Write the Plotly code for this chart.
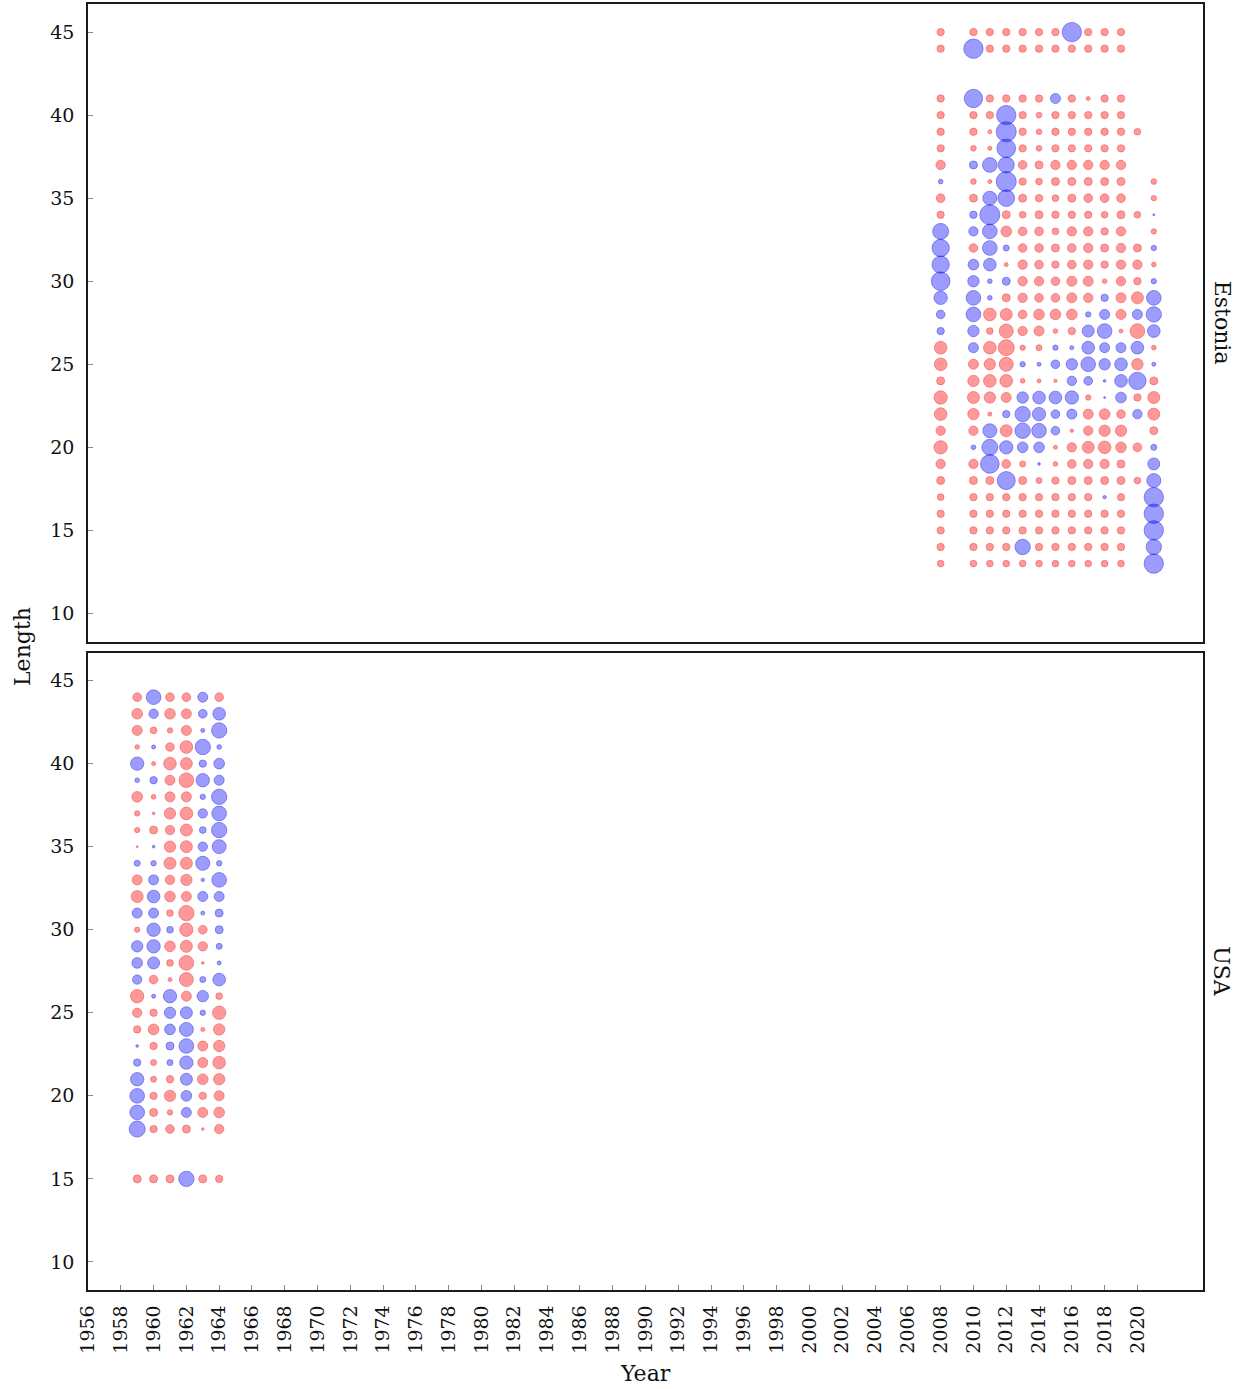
import plotly.graph_objects as go
from plotly.subplots import make_subplots

# ---------------- data ----------------
# signed bubble magnitudes: positive -> red, negative -> blue, None -> no bubble
est_years = [2008, 2010, 2011, 2012, 2013, 2014, 2015, 2016, 2017, 2018, 2019, 2020, 2021]
est_lengths = [45, 44, 41, 40, 39, 38, 37, 36, 35, 34, 33, 32, 31, 30, 29, 28, 27, 26,
               25, 24, 23, 22, 21, 20, 19, 18, 17, 16, 15, 14, 13]
est_values = [
    [22, 22, 22, 22, 22, 22, 22, -58, 22, 22, 22, None, None],   # 45
    [22, -58, 22, 22, 22, 22, 22, 22, 22, 22, 22, None, None],   # 44
    [22, -55, 22, 22, 22, 22, -30, 22, 12, 22, 22, None, None],  # 41
    [22, 22, 22, -58, 22, 17, 22, 22, 22, 22, 22, None, None],   # 40
    [22, 22, 12, -60, 22, 17, 22, 22, 22, 22, 22, 20, None],     # 39
    [22, 17, 12, -56, 22, 17, 22, 22, 22, 22, 22, None, None],   # 38
    [28, -24, -44, -48, 26, 24, 28, 28, 28, 28, 28, None, None], # 37
    [-14, 17, 12, -60, 22, 20, 24, 24, 24, 24, 24, None, 17],    # 36
    [26, 24, -42, -50, 24, 22, 20, 24, 26, 26, 26, None, 16],    # 35
    [22, -22, -60, 24, 20, 24, 22, 22, 22, 20, 24, 20, -6],      # 34
    [-48, -28, -44, 32, 26, 26, 20, 28, 28, 22, 28, None, 16],   # 33
    [-52, 26, -44, -18, 26, 26, 24, 26, 28, 24, 28, 24, -16],    # 32
    [-52, -32, -38, 12, 28, 26, 22, 26, 28, 22, 28, 28, 14],     # 31
    [-56, -34, -14, -24, 28, 28, 26, 30, 30, 14, 28, 22, -16],   # 30
    [-40, -44, -14, 24, 28, 26, 26, 30, 28, -22, 30, 36, -44],   # 29
    [-26, -44, 38, 36, 26, 32, 32, 32, -16, -30, 30, -30, -46],  # 28
    [-22, -34, 20, 42, 28, 30, 14, 22, -36, -44, 12, 44, -38],   # 27
    [38, -30, 38, 48, 16, 18, -16, -12, -38, -30, -30, -38, 14], # 26
    [38, 30, 34, 42, -16, -12, -26, -34, -44, -34, -38, 34, -12],# 25
    [24, 34, 38, 38, 14, 12, 10, -28, -26, -8, -38, -52, 24],    # 24
    [40, 36, 34, 30, -34, -38, -38, -40, 16, -6, -32, 22, 36],   # 23
    [38, 34, 12, -22, -46, -40, -26, -30, 30, 32, 26, -28, 36],  # 22
    [28, 28, -42, 36, -46, -44, -26, 10, 28, 34, 34, None, 24],  # 21
    [40, -14, -48, -40, -32, -32, 12, 28, 36, 38, 32, 26, -18],  # 20
    [28, 28, -56, 26, 18, -8, 14, 26, 28, 28, 24, None, -36],    # 19
    [24, 24, 24, -54, 24, 18, 22, 24, 24, 24, 24, 20, -42],      # 18
    [20, 22, 22, 22, 22, 22, 22, 22, 22, -10, 22, None, -58],    # 17
    [22, 22, 22, 22, 22, 22, 22, 22, 22, 22, 22, None, -58],     # 16
    [22, 22, 22, 22, 22, 22, 22, 22, 22, 22, 22, None, -58],     # 15
    [22, 22, 22, 22, -46, 22, 22, 22, 22, 22, 22, None, -46],    # 14
    [20, 20, 20, 20, 20, 20, 20, 20, 20, 20, 20, None, -58],     # 13
]

usa_years = [1959, 1960, 1961, 1962, 1963, 1964]
usa_lengths = [44, 43, 42, 41, 40, 39, 38, 37, 36, 35, 34, 33, 32, 31, 30, 29, 28, 27,
               26, 25, 24, 23, 22, 21, 20, 19, 18, 15]
usa_values = [
    [26, -44, 26, 26, -30, 26],    # 44
    [32, -28, 32, 30, -26, -38],   # 43
    [30, 20, 16, 30, -12, -46],    # 42
    [14, -12, 26, 38, -46, -14],   # 41
    [-40, 12, 38, 36, -22, -32],   # 40
    [-14, -22, 30, 44, -40, -30],  # 39
    [32, 14, 30, 30, -16, -46],    # 38
    [16, 8, 34, 38, -28, -44],     # 37
    [16, 24, 28, 36, -20, -46],    # 36
    [6, -8, 34, 36, -28, -42],     # 35
    [-18, -16, 36, 36, -42, -16],  # 34
    [30, -30, 28, 34, -10, -44],   # 33
    [36, -38, 32, 30, -30, -30],   # 32
    [-30, -30, 20, 46, -12, -24],  # 31
    [16, -40, -20, 40, 26, -24],   # 30
    [-34, -40, 32, 36, 28, -18],   # 29
    [-32, -36, 20, 44, 8, -12],    # 28
    [-28, 26, 12, 42, -18, -38],   # 27
    [40, -12, -40, 30, -34, 20],   # 26
    [28, 22, -34, -36, -16, 40],   # 25
    [22, 32, -32, -42, 12, 34],    # 24
    [-8, 22, -24, -44, 30, 34],    # 23
    [-22, 18, -18, -40, 30, 38],   # 22
    [-40, 18, 22, -36, 32, 34],    # 21
    [-44, 22, 34, -32, 22, 30],    # 20
    [-44, 24, 16, -30, 30, 32],    # 19
    [-48, 22, 26, 24, 8, 28],      # 18
    [24, 24, 24, -46, 24, 22],     # 15
]

x_ticks = list(range(1956, 2021, 2))
y_ticks = [10, 15, 20, 25, 30, 35, 40, 45]
panel_names = ["Estonia", "USA"]

# ---------------- figure ----------------
FONT = "DejaVu Serif"
RED_FILL = "rgba(255,0,0,0.57)"
RED_LINE = "rgba(235,0,0,0.55)"
BLUE_FILL = "rgba(0,0,255,0.55)"
BLUE_LINE = "rgba(0,0,220,0.6)"
SIZEREF = 3.0

fig = make_subplots(rows=2, cols=1, shared_xaxes=True, vertical_spacing=11 / 1286)


def add_panel(years, lengths, values, row):
    for positive, fill, line in [(True, RED_FILL, RED_LINE), (False, BLUE_FILL, BLUE_LINE)]:
        xs, ys, ss = [], [], []
        for L, rowvals in zip(lengths, values):
            for yr, v in zip(years, rowvals):
                if v is None:
                    continue
                if (v > 0) == positive:
                    xs.append(yr)
                    ys.append(L)
                    ss.append(abs(v))
        fig.add_trace(
            go.Scatter(
                x=xs, y=ys, mode="markers", showlegend=False,
                marker=dict(size=ss, sizemode="diameter", sizeref=SIZEREF,
                            color=fill, line=dict(color=line, width=1)),
            ),
            row=row, col=1,
        )


add_panel(est_years, est_lengths, est_values, 1)
add_panel(usa_years, usa_lengths, usa_values, 2)

axis_common = dict(
    showgrid=False, zeroline=False, showline=True, linecolor="#1a1a1a", linewidth=1.5,
    mirror=True, ticks="inside", ticklen=5, tickcolor="#888", tickwidth=1,
    tickfont=dict(family=FONT, size=19, color="#111"), automargin=False,
)

for r in (1, 2):
    fig.update_yaxes(range=[8.31, 46.69], tickvals=y_ticks, ticklabelstandoff=8,
                     row=r, col=1, **axis_common)
    fig.update_xaxes(range=[1956, 2024], tickvals=x_ticks, row=r, col=1, **axis_common)

fig.update_xaxes(showticklabels=False, ticks="", row=1, col=1)
fig.update_xaxes(showticklabels=True, tickangle=-90, ticklabelstandoff=6, row=2, col=1)

fig.update_layout(
    width=1244, height=1389,
    margin=dict(l=88, r=41, t=4, b=99),
    plot_bgcolor="white", paper_bgcolor="white",
    font=dict(family=FONT, color="black"),
)

# panel labels on the right
for i, name in enumerate(panel_names):
    fig.add_annotation(text=name, xref="paper", yref=("y" if i == 0 else "y2") + " domain",
                       x=1.0, y=0.5, xanchor="center", yanchor="middle",
                       xshift=19, showarrow=False, textangle=90,
                       font=dict(family=FONT, size=22, color="#111"))

# axis titles
fig.add_annotation(text="Length", xref="paper", yref="paper", x=0, y=0.5,
                   xanchor="center", yanchor="middle",
                   xshift=-66, showarrow=False, textangle=-90,
                   font=dict(family=FONT, size=22, color="#111"))
fig.add_annotation(text="Year", xref="paper", yref="paper", x=0.5, y=0,
                   xanchor="center", yanchor="middle",
                   yshift=-83, showarrow=False,
                   font=dict(family=FONT, size=22, color="#111"))

fig.write_html("out.html", config={"displayModeBar": False},
               post_script="document.body.style.margin='0';")
